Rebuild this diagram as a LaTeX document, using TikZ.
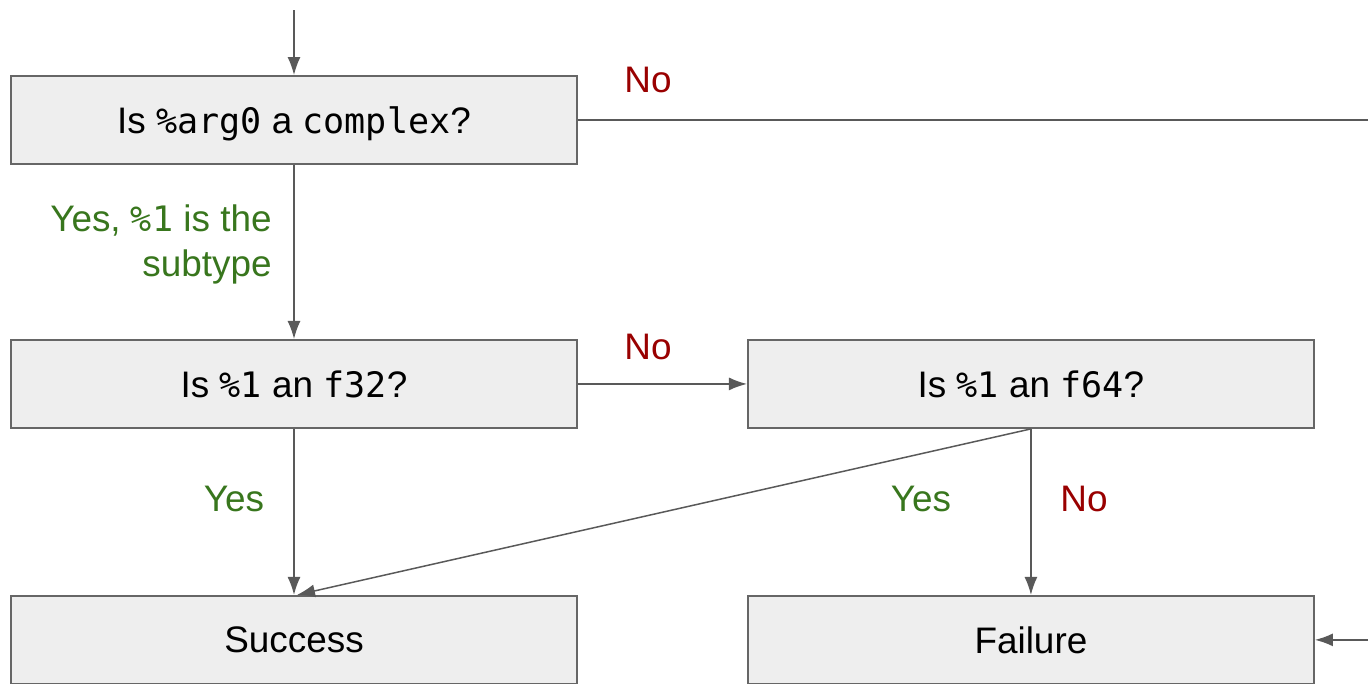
\documentclass[tikz,border=0pt]{standalone}
\usepackage{fontspec}
\setmainfont{Liberation Sans}
\setmonofont{DejaVu Sans Mono}[Scale=0.95]
\usetikzlibrary{arrows.meta, positioning}
\definecolor{BoxFill}{HTML}{EEEEEE}
\definecolor{BoxLine}{HTML}{666666}
\definecolor{ArrowGray}{HTML}{595959}
\definecolor{YesGreen}{HTML}{38761D}
\definecolor{NoRed}{HTML}{990000}
\tikzset{
  box/.style={draw=BoxLine, line width=1.1pt, fill=BoxFill, align=center, minimum width=11.32cm, minimum height=1.76cm, inner sep=0pt, text depth=0pt, font=\fontsize{21}{25.6}\selectfont},
  arrow/.style={-{Latex[length=3.6mm, width=2.6mm]}, line width=0.85pt, draw=ArrowGray},
  yeslabel/.style={text=YesGreen, font=\fontsize{21}{25.6}\selectfont, align=right, inner sep=0pt},
  nolabel/.style={text=NoRed, font=\fontsize{21}{25.6}\selectfont, inner sep=0pt}
}
\begin{document}
\begin{tikzpicture}
\useasboundingbox (0,0) rectangle (27.36,-13.68);
\node[box] (cplx) at (5.88,-2.4) {Is \texttt{\%arg0} a \texttt{complex}?};
\node[box, below=3.48cm of cplx] (isf32) {Is \texttt{\%1} an \texttt{f32}?};
\node[box, right=3.38cm of isf32] (isf64) {Is \texttt{\%1} an \texttt{f64}?};
\node[box, below=3.32cm of isf32] (success) {Success};
\node[box, below=3.32cm of isf64] (failure) {Failure};
\coordinate (entry) at (5.88,-0.2);
\coordinate (farright) at (27.6,-2.4);
% connectors
\draw[arrow] (entry) -- (cplx.north);
\draw[arrow] (cplx.south) -- (isf32.north);
\draw[arrow] (isf32.east) -- (isf64.west);
\draw[arrow] (isf32.south) -- (success.north);
\draw[arrow] (isf64.south) -- ([xshift=0.06cm]success.north);
\draw[arrow] (isf64.south) -- (failure.north);
\draw[arrow] (cplx.east) -- (farright) |- (failure.east);
% labels
\node[nolabel] (nocplx) at (12.96,-1.6) {No};
\node[yeslabel, anchor=east] (yescplx) at (5.44,-4.89) {Yes, \texttt{\%1} is the\\subtype};
\node[nolabel] (nof32) at (12.96,-6.94) {No};
\node[yeslabel] (yesf32) at (4.68,-9.98) {Yes};
\node[yeslabel] (yesf64) at (18.42,-9.98) {Yes};
\node[nolabel] (nof64) at (21.68,-9.98) {No};
\end{tikzpicture}
\end{document}
